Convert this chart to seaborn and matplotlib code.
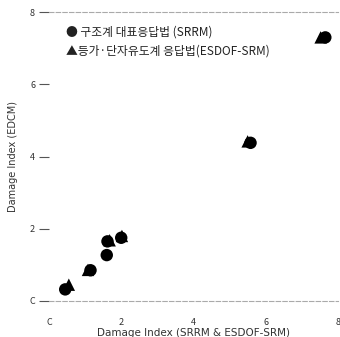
import matplotlib
matplotlib.use("Agg")
import matplotlib.pyplot as plt
import seaborn as sns
import pandas as pd

srrm_x = [0.45, 1.15, 1.60, 1.62, 2.00, 5.58, 7.65]
srrm_y = [0.32, 0.85, 1.27, 1.65, 1.75, 4.38, 7.30]
esdof_x = [0.55, 1.08, 1.68, 2.02, 5.50, 7.52]
esdof_y = [0.45, 0.86, 1.68, 1.80, 4.42, 7.30]
series_names = ["구조계 대표응답법 (SRRM)", "등가·단자유도계 응답법(ESDOF-SRM)"]
ticks = [0, 2, 4, 6, 8]
tick_labels = ["C", "2", "4", "6", "8"]

sns.set_style("white")
plt.rcParams['font.family'] = ['Noto Sans CJK KR', 'DejaVu Sans']

df = pd.DataFrame({
    "x": srrm_x + esdof_x,
    "y": srrm_y + esdof_y,
    "s": [series_names[0]] * len(srrm_x) + [series_names[1]] * len(esdof_x),
})

fig = plt.figure(figsize=(3.4, 3.37), dpi=100)
ax = fig.add_axes([0.144, 0.107, 0.85, 0.857])
sns.scatterplot(data=df, x="x", y="y", hue="s", style="s",
                markers={series_names[0]: "o", series_names[1]: "^"},
                palette={series_names[0]: "black", series_names[1]: "black"},
                s=80, edgecolor="black", linewidth=0, legend=False, ax=ax)

ax.set_xlim(0, 8)
ax.set_ylim(0, 8)
ax.set_xticks(ticks)
ax.set_xticklabels(tick_labels, fontsize=6.5, color="#333333")
ax.set_yticks(ticks)
ax.set_yticklabels(tick_labels, fontsize=6.5, color="#333333")
ax.tick_params(axis="y", left=True, length=7, width=0.8, color="#555555",
               direction="out", pad=3)
ax.tick_params(axis="x", bottom=False, length=0, pad=12)
for side in ["left", "right"]:
    ax.spines[side].set_visible(False)
for side in ["top", "bottom"]:
    ax.spines[side].set_color("#aaaaaa")
    ax.spines[side].set_linewidth(0.8)
    ax.spines[side].set_linestyle((0, (4, 2)))

ax.set_xlabel("Damage Index (SRRM & ESDOF-SRM)", fontsize=7.5, color="#333333",
              family=['DejaVu Sans'], labelpad=1)
ax.set_ylabel("Damage Index (EDCM)", fontsize=7, color="#333333",
              family=['DejaVu Sans'], labelpad=8)

ax.text(0.06, 0.93, "● " + series_names[0], transform=ax.transAxes,
        fontsize=8.5, color="#222222", va="center", ha="left")
ax.text(0.06, 0.865, "▲" + series_names[1], transform=ax.transAxes,
        fontsize=8.5, color="#222222", va="center", ha="left")

fig.savefig("out.png", dpi=100)
